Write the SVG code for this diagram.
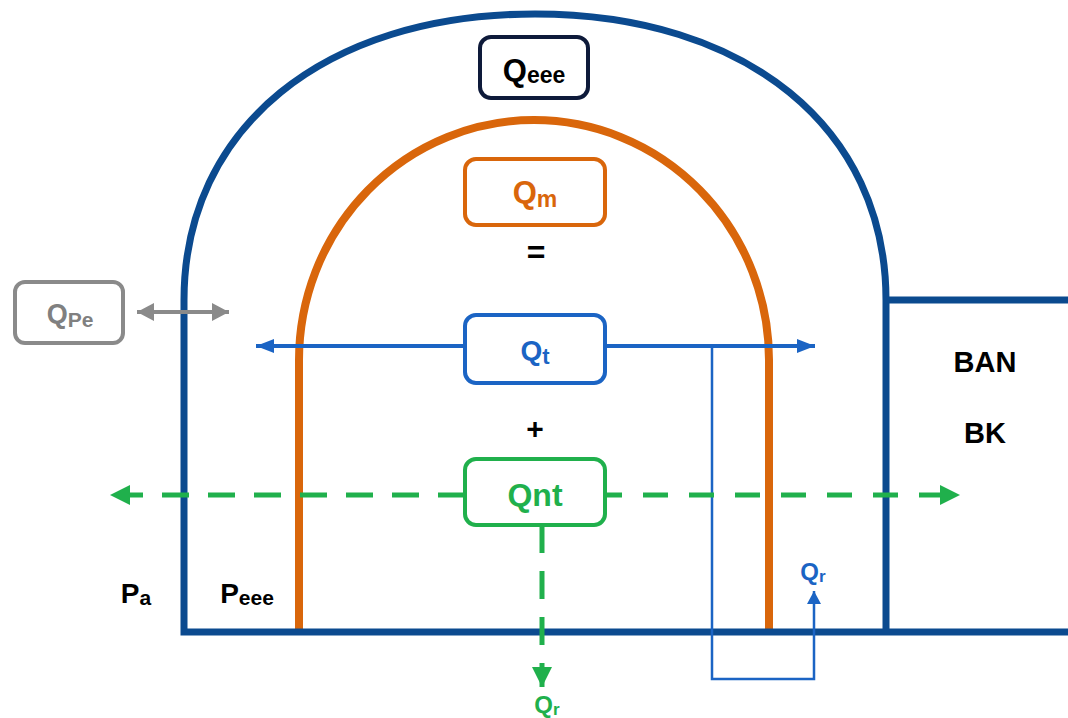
<svg xmlns="http://www.w3.org/2000/svg" width="1068" height="718" viewBox="0 0 1068 718">
  <style>
    .t { font-family: "Liberation Sans", Arial, sans-serif; font-weight: bold; }
    .box { fill: #ffffff; stroke-width: 4; }
  </style>
  <defs>
    <marker id="ahGreen" markerUnits="userSpaceOnUse" markerWidth="22" markerHeight="22" refX="20" refY="10" orient="auto">
      <path d="M0,0 L20,10 L0,20 Z" fill="#20b04c"/>
    </marker>
    <marker id="ahBlue" markerUnits="userSpaceOnUse" markerWidth="20" markerHeight="16" refX="18" refY="7" orient="auto">
      <path d="M0,0 L18,7 L0,14 Z" fill="#1b64c4"/>
    </marker>
    <marker id="ahBlueS" markerUnits="userSpaceOnUse" markerWidth="16" markerHeight="16" refX="13" refY="7" orient="auto">
      <path d="M0,0 L13,7 L0,14 Z" fill="#1b64c4"/>
    </marker>
    <marker id="ahGray" markerUnits="userSpaceOnUse" markerWidth="20" markerHeight="20" refX="17" refY="9" orient="auto">
      <path d="M0,0 L17,9 L0,18 Z" fill="#8a8a8a"/>
    </marker>
  </defs>

  <g id="inner-arch">
    <path d="M299 632 L299 360 A235 240 0 0 1 769 360 L769 632" fill="none" stroke="#d9660b" stroke-width="8"/>
  </g>
  <g id="outer-arch">
    <path d="M1068 632 L184 632 L184 300 C184 128 324 14 535 14 C746 14 886 128 886 300 L886 632" fill="none" stroke="#0b4a8f" stroke-width="7" stroke-linejoin="miter"/>
    <path d="M886 300 L1068 300" fill="none" stroke="#0b4a8f" stroke-width="7"/>
  </g>

  <g id="connectors">
    <path d="M465 346 L256 346" fill="none" stroke="#1b64c4" stroke-width="4" marker-end="url(#ahBlue)"/>
    <path d="M605 346 L815 346" fill="none" stroke="#1b64c4" stroke-width="4" marker-end="url(#ahBlue)"/>
    <path d="M712 346 L712 679 L814 679 L814 591" fill="none" stroke="#1b64c4" stroke-width="2.5" stroke-linejoin="miter" marker-end="url(#ahBlueS)"/>
    <path d="M465 495 L110 495" fill="none" stroke="#20b04c" stroke-width="5" stroke-dasharray="27 19" marker-end="url(#ahGreen)"/>
    <path d="M605 495 L960 495" fill="none" stroke="#20b04c" stroke-width="5" stroke-dasharray="25 21" stroke-dashoffset="8" marker-end="url(#ahGreen)"/>
    <path d="M542 525 L542 687" fill="none" stroke="#20b04c" stroke-width="5" stroke-dasharray="28 18" marker-end="url(#ahGreen)"/>
    <path d="M180 312 L137 312" fill="none" stroke="#8a8a8a" stroke-width="4" marker-end="url(#ahGray)"/>
    <path d="M180 312 L229 312" fill="none" stroke="#8a8a8a" stroke-width="4" marker-end="url(#ahGray)"/>
  </g>

  <g id="node-qeee">
    <rect class="box" x="480" y="37" width="108" height="61" rx="11" stroke="#0e1a3a"/>
    <text class="t" x="534" y="81" text-anchor="middle" fill="#000000"><tspan font-size="31">Q</tspan><tspan font-size="23" dy="2">eee</tspan></text>
  </g>
  <g id="node-qm">
    <rect class="box" x="465" y="159" width="140" height="66" rx="11" stroke="#d9660b"/>
    <text class="t" x="535" y="203" text-anchor="middle" fill="#d9660b"><tspan font-size="31">Q</tspan><tspan font-size="23" dy="4">m</tspan></text>
  </g>
  <g id="node-eq">
    <text class="t" x="536" y="263" text-anchor="middle" font-size="32" fill="#000000">=</text>
  </g>
  <g id="node-qt">
    <rect class="box" x="465" y="315" width="140" height="68" rx="11" stroke="#1b64c4"/>
    <text class="t" x="535" y="360" text-anchor="middle" fill="#1b64c4"><tspan font-size="28">Q</tspan><tspan font-size="22" dy="4">t</tspan></text>
  </g>
  <g id="node-plus">
    <text class="t" x="535" y="439" text-anchor="middle" font-size="30" fill="#000000">+</text>
  </g>
  <g id="node-qnt">
    <rect class="box" x="465" y="459" width="140" height="66" rx="11" stroke="#20b04c"/>
    <text class="t" x="535" y="506" text-anchor="middle" font-size="32" fill="#20b04c">Qnt</text>
  </g>
  <g id="node-qpe">
    <rect class="box" x="15" y="282" width="108" height="61" rx="10" stroke="#8a8a8a"/>
    <text class="t" x="70" y="323" text-anchor="middle" fill="#808080"><tspan font-size="27">Q</tspan><tspan font-size="21" dy="4">Pe</tspan></text>
  </g>
  <g id="label-qr-green">
    <text class="t" x="547" y="713" text-anchor="middle" fill="#20b04c"><tspan font-size="24">Q</tspan><tspan font-size="17" dy="2">r</tspan></text>
  </g>
  <g id="label-qr-blue">
    <text class="t" x="813" y="580" text-anchor="middle" fill="#1b64c4"><tspan font-size="24">Q</tspan><tspan font-size="17" dy="2">r</tspan></text>
  </g>
  <g id="label-pa">
    <text class="t" x="136" y="603" text-anchor="middle" fill="#000000"><tspan font-size="28">P</tspan><tspan font-size="21" dy="2">a</tspan></text>
  </g>
  <g id="label-peee">
    <text class="t" x="247" y="603" text-anchor="middle" fill="#000000"><tspan font-size="28">P</tspan><tspan font-size="21" dy="2">eee</tspan></text>
  </g>
  <g id="label-ban">
    <text class="t" x="985" y="372" text-anchor="middle" font-size="29" fill="#000000">BAN</text>
  </g>
  <g id="label-bk">
    <text class="t" x="985" y="443" text-anchor="middle" font-size="29" fill="#000000">BK</text>
  </g>
</svg>
